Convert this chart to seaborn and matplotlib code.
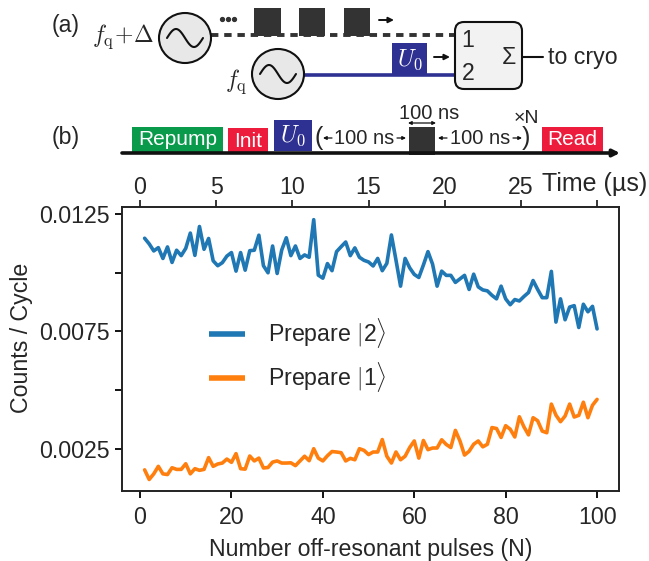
import numpy as np
import pandas as pd
import matplotlib
matplotlib.use("Agg")
import matplotlib.pyplot as plt
from matplotlib.patches import Rectangle, Ellipse, FancyBboxPatch
import seaborn as sns

# Values
pulses = list(range(1, 101))
prepare_2 = [
    .01147, .01123, .01093, .01107, .01061, .0111, .01044, .01096, .01073, .01104,
    .01169, .01074, .01197, .011, .01146, .01051, .0103, .01043, .01071, .01086,
    .01007, .01086, .01011, .01094, .01096, .0116, .0103, .01, .01114, .00997,
    .01097, .01149, .01073, .01114, .01061, .01076, .01066, .01226, .0099, .00977,
    .01039, .01009, .0109, .01111, .01131, .01073, .01106, .01066, .01053, .01046,
    .01029, .01061, .01009, .0104, .01161, .01054, .00943, .01061, .01021, .00993,
    .0098, .01033, .0109, .01037, .00943, .01007, .00989, .00989, .00959, .00974,
    .00989, .00929, .00994, .0094, .00927, .00923, .00904, .00889, .00943, .00889,
    .00864, .00886, .0088, .00899, .00916, .00967, .00929, .00894, .00894, .01006,
    .0079, .00889, .008, .00854, .0086, .00767, .00866, .00834, .00857, .00761,
]
prepare_1 = [
    .00161, .0012, .00144, .00176, .00144, .00141, .0017, .00163, .00163, .00187,
    .00144, .00166, .00159, .00163, .00213, .00176, .00186, .0019, .00207, .00193,
    .0023, .00166, .00164, .0022, .00199, .00211, .00169, .00171, .00194, .00199,
    .0019, .0019, .00191, .00179, .00199, .00219, .002, .00251, .00211, .00199,
    .00221, .00239, .00237, .00234, .00199, .0021, .00204, .00251, .00244, .00226,
    .00237, .00237, .0029, .00219, .0019, .00237, .00204, .00219, .00256, .00284,
    .00211, .00286, .00247, .00254, .00254, .00289, .00269, .00256, .00329, .00284,
    .00224, .0024, .0027, .00284, .00259, .0027, .00341, .00337, .00299, .00349,
    .00334, .00301, .00387, .00344, .0031, .00383, .0037, .00326, .00319, .00441,
    .00394, .00366, .0039, .00441, .00386, .00393, .00449, .00383, .00436, .00461,
]
x_ticks = [0, 20, 40, 60, 80, 100]
y_ticks = [0.0025, 0.005, 0.0075, 0.01, 0.0125]
y_labels = ["0.0025", "", "0.0075", "", "0.0125"]
time_ticks = [0, 5, 10, 15, 20, 25, 30]
time_labels = ["0", "5", "10", "15", "20", "25", ""]

sns.set_style("ticks")
plt.rcParams["font.family"] = ["Liberation Sans", "DejaVu Sans"]
plt.rcParams["mathtext.fontset"] = "cm"
plt.rcParams["text.color"] = "#262626"

TEXT = 16.7
SMALL = 15
DARK = "#333333"
NAVY = "#2e3192"
GREEN = "#0a9a4c"
RED = "#ed1c3c"

df = pd.DataFrame({
    "N": pulses * 2,
    "counts": prepare_2 + prepare_1,
    "state": [r"Prepare $|$2$\rangle$"] * 100 + [r"Prepare $|$1$\rangle$"] * 100,
})

fig = plt.figure(figsize=(6.49, 5.61), dpi=100)
ax = fig.add_axes([122 / 649, 1 - 491 / 561, 497 / 649, 284 / 561])

sns.lineplot(data=df, x="N", y="counts", hue="state", palette=["#1f77b4", "#ff7f0e"],
             linewidth=2.6, ax=ax)
ax.set_xlim(-3.95, 104.8)
ax.set_ylim(0.00071, 0.0128)
ax.set_xticks(x_ticks)
ax.set_yticks(y_ticks)
ax.set_yticklabels(y_labels)
ax.tick_params(labelsize=TEXT, length=5, width=1.3, colors="black", labelcolor="#262626")
ax.tick_params(axis="x", pad=6)
ax.set_xlabel("Number off-resonant pulses (N)", fontsize=TEXT, labelpad=6)
ax.set_ylabel("Counts / Cycle", fontsize=TEXT, labelpad=5, y=0.54)
for s in ax.spines.values():
    s.set_linewidth(1.4)
    s.set_color("#222222")

leg = ax.legend(loc="upper left", bbox_to_anchor=(0.175, 0.615), frameon=False, fontsize=TEXT,
                handlelength=1.55, labelspacing=0.42, handletextpad=1.0, borderpad=0, borderaxespad=0)
for h in leg.get_lines():
    h.set_linewidth(4)
    h.set_solid_capstyle("butt")

top = ax.secondary_xaxis("top", functions=(lambda n: n * 0.3, lambda t: t / 0.3))
top.set_xticks(time_ticks)
top.set_xticklabels(time_labels)
top.tick_params(labelsize=TEXT, length=5, width=1.3, pad=1)
top.spines["top"].set_visible(False)

# schematic on top, in pixel coordinates of the figure
sk = fig.add_axes([0, 0, 1, 1], facecolor="none")
sk.set_xlim(0, 649)
sk.set_ylim(561, 0)
sk.axis("off")


def box(x0, x1, y0, y1, color, z=3):
    sk.add_patch(Rectangle((x0, y0), x1 - x0, y1 - y0, fc=color, ec="none", zorder=z))


def source(cx, cy):
    sk.add_patch(Ellipse((cx, cy), 52, 50, fc="#e8e8e8", ec="#111111", lw=1.5, zorder=4))
    t = np.linspace(-1, 1, 60)
    sk.plot(cx + 18 * t, cy + 9 * np.sin(np.pi * t), color="#111111", lw=1.5, zorder=5)


def arrow(x0, x1, y, style="-|>", lw=1.4, scale=8):
    sk.annotate("", xy=(x1, y), xytext=(x0, y), zorder=6,
                arrowprops=dict(arrowstyle=style, color="#111111", lw=lw,
                                mutation_scale=scale, shrinkA=0, shrinkB=0))


# (a) sources and combiner
sk.plot([211, 455], [35, 35], color=DARK, lw=2.8, dashes=(1.9, 1.5), zorder=2)
sk.plot([304, 455], [75, 75], color=NAVY, lw=2.6, zorder=2)
for x0, x1 in [(254, 281), (299, 325), (344, 370)]:
    box(x0, x1, 8, 36, DARK)
sk.plot([222, 228, 234], [19, 19, 19], "o", color=DARK, ms=2.8)
arrow(379, 394, 20)
source(185, 38)
source(278, 74)
box(392, 427, 43, 76, NAVY)
sk.text(409.5, 60, r"$U_0$", color="white", fontsize=17, ha="center", va="center", zorder=5)
arrow(434, 450, 57)
sk.add_patch(FancyBboxPatch((464, 31), 49, 49, boxstyle="round,pad=9,rounding_size=9",
                            fc="#f2f2f2", ec="#111111", lw=1.5, zorder=4))
sk.text(468, 40, "1", fontsize=TEXT, ha="center", va="center", zorder=5)
sk.text(468, 73, "2", fontsize=TEXT, ha="center", va="center", zorder=5)
sk.text(509, 57, "Σ", fontsize=TEXT, ha="center", va="center", zorder=5)
sk.plot([522, 543], [57, 57], color="#111111", lw=1.5)
sk.text(548, 57, "to cryo", fontsize=TEXT, ha="left", va="center")
sk.text(154, 37, r"$f_{\mathrm{q}}\!+\!\Delta$", fontsize=17, ha="right", va="center")
sk.text(247, 82, r"$f_{\mathrm{q}}$", fontsize=17, ha="right", va="center")
sk.text(66, 25, "(a)", fontsize=TEXT, ha="center", va="center")
sk.text(66, 137, "(b)", fontsize=TEXT, ha="center", va="center")

# (b) pulse sequence
arrow(122, 620, 153, lw=2.6, scale=10)
box(132, 223, 127, 153, GREEN)
sk.text(177.5, 139, "Repump", color="white", fontsize=SMALL, ha="center", va="center", zorder=5)
box(228, 268, 128, 153, RED)
sk.text(248, 141, "Init", color="white", fontsize=SMALL, ha="center", va="center", zorder=5)
box(274, 312, 120, 151, NAVY)
sk.text(293, 136, r"$U_0$", color="white", fontsize=17, ha="center", va="center", zorder=5)
box(409, 435, 127, 155, DARK)
box(542, 603, 127, 153, RED)
sk.text(572.5, 139, "Read", color="white", fontsize=SMALL, ha="center", va="center", zorder=5)
sk.text(319, 138, "(", fontsize=18, ha="center", va="center")
sk.text(526, 138, ")", fontsize=18, ha="center", va="center")
sk.text(364, 138, "100 ns", fontsize=SMALL - 0.5, ha="center", va="center")
sk.text(480, 138, "100 ns", fontsize=SMALL - 0.5, ha="center", va="center")
sk.text(429, 113, "100 ns", fontsize=SMALL - 0.5, ha="center", va="center")
sk.text(526, 118, "×N", fontsize=SMALL - 1, ha="center", va="center")
arrow(408, 436, 123, style="<|-|>", lw=0.9, scale=5)
arrow(332, 323, 138, lw=0.9, scale=5)
arrow(397, 406, 138, lw=0.9, scale=5)
arrow(447, 438, 138, lw=0.9, scale=5)
arrow(513, 522, 138, lw=0.9, scale=5)
sk.text(542, 184, "Time (µs)", fontsize=18, ha="left", va="center")

fig.savefig("out.png", dpi=100)
